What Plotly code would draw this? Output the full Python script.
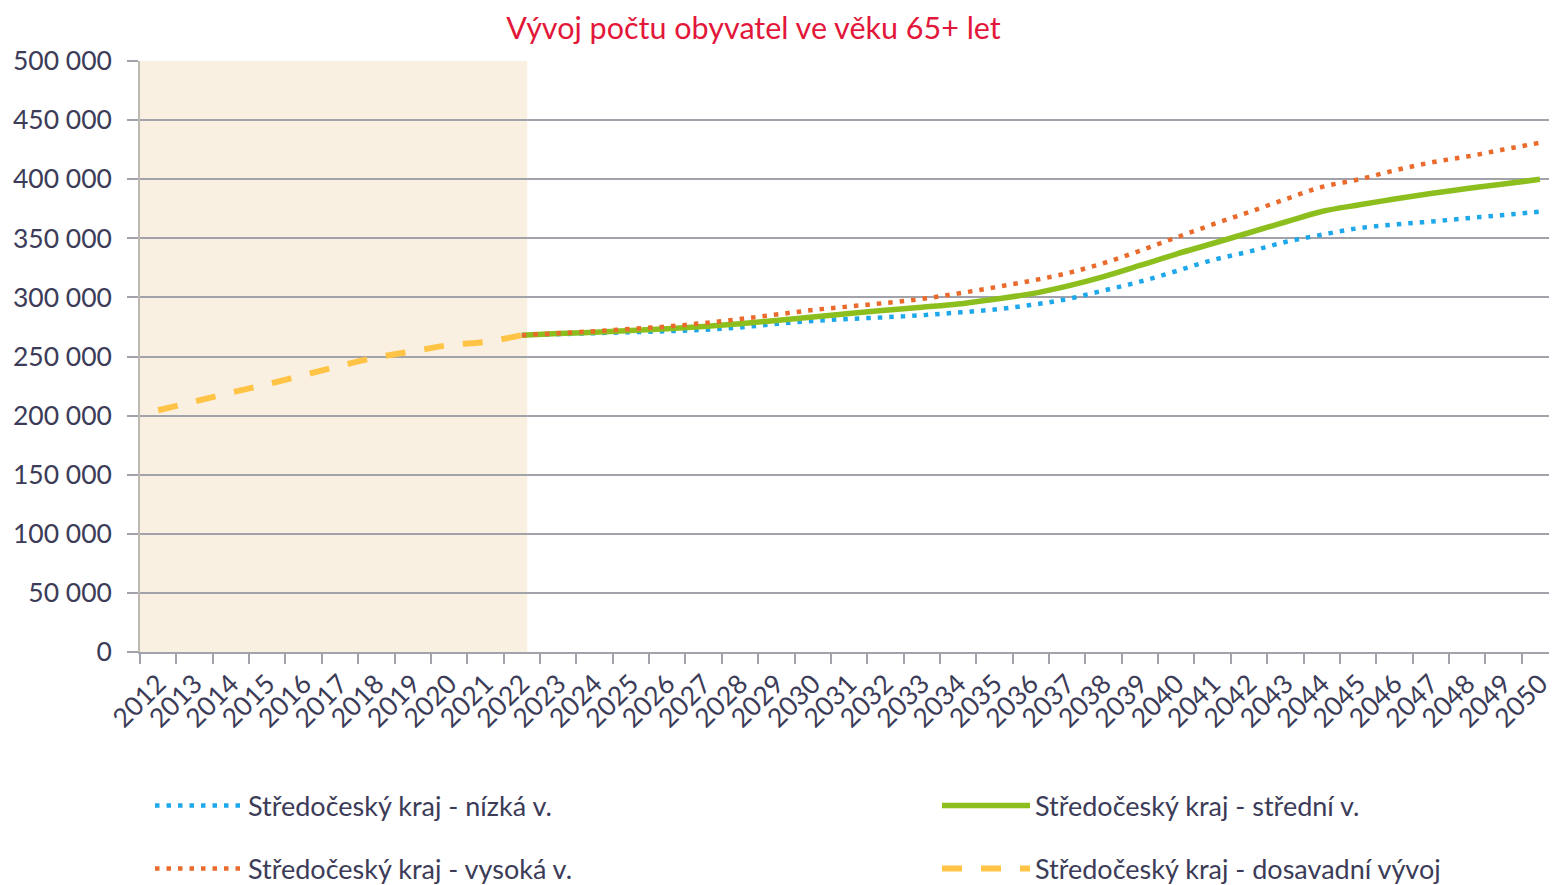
import plotly.graph_objects as go

years = ["2012", "2013", "2014", "2015", "2016", "2017", "2018", "2019", "2020", "2021",
         "2022", "2023", "2024", "2025", "2026", "2027", "2028", "2029", "2030", "2031",
         "2032", "2033", "2034", "2035", "2036", "2037", "2038", "2039", "2040", "2041",
         "2042", "2043", "2044", "2045", "2046", "2047", "2048", "2049", "2050"]

hist_years = years[:11]          # 2012-2022
proj_years = years[10:]          # 2022-2050

hist_values = [204500, 211900, 219500, 226500, 234300, 242000, 249200, 254400, 259600, 262400, 268000]

low_values = [268000, 268900, 269700, 270600, 271400, 272600, 274600, 277600, 280100, 281800,
              283200, 284900, 287200, 289800, 293600, 298600, 305800, 313300, 322300, 331600,
              338700, 346900, 353000, 358500, 361700, 364100, 367000, 369700, 372500]

mid_values = [268000, 269400, 270600, 271900, 273400, 275300, 277700, 280500, 283400, 286400,
              289100, 291700, 294400, 298500, 303000, 309500, 317500, 327000, 336700, 345600,
              354700, 363800, 372700, 378200, 383200, 387900, 392100, 395900, 399900]

high_values = [268000, 269700, 271400, 273300, 275400, 278300, 281700, 285500, 289300, 292300,
               295300, 298700, 303300, 308500, 314000, 320500, 329000, 339500, 350700, 361700,
               372200, 383000, 393400, 399700, 407400, 414100, 419200, 425100, 430800]

y_tickvals = [0, 50000, 100000, 150000, 200000, 250000, 300000, 350000, 400000, 450000, 500000]
y_ticktext = ["0", "50 000", "100 000", "150 000", "200 000", "250 000", "300 000",
              "350 000", "400 000", "450 000", "500 000"]

names = ["Středočeský kraj - nízká v.", "Středočeský kraj - střední v.",
         "Středočeský kraj - vysoká v.", "Středočeský kraj - dosavadní vývoj"]

title_text = "Vývoj počtu obyvatel ve věku 65+ let"

FONT = "Lato"
TXT = "#3c3c58"
GRID = "#a2a2aa"

fig = go.Figure()

fig.add_trace(go.Scatter(
    x=hist_years, y=hist_values, mode="lines", name=names[3],
    line=dict(color="#ffc445", width=6, dash="20px,19px", shape="spline"),
    legend="legend4", hoverinfo="skip"))

fig.add_trace(go.Scatter(
    x=proj_years, y=low_values, mode="lines", name=names[0],
    line=dict(color="#1ea7ea", width=4.5, dash="4.5px,7px", shape="spline"),
    legend="legend", hoverinfo="skip"))

fig.add_trace(go.Scatter(
    x=proj_years, y=mid_values, mode="lines", name=names[1],
    line=dict(color="#8cbf1e", width=5.5, shape="spline"),
    legend="legend2", hoverinfo="skip"))

fig.add_trace(go.Scatter(
    x=proj_years, y=high_values, mode="lines", name=names[2],
    line=dict(color="#ea6a2c", width=4.5, dash="4.5px,7px", shape="spline"),
    legend="legend3", hoverinfo="skip"))

# shaded historical period
fig.add_shape(type="rect", xref="x", yref="y", x0=-0.5, x1=10.15, y0=0, y1=503000,
              fillcolor="#faf0e2", line=dict(width=0), layer="below")

legend_common = dict(
    orientation="h", xref="container", yref="container",
    xanchor="left", yanchor="middle", itemwidth=88,
    font=dict(family=FONT, size=27, color=TXT),
    bgcolor="rgba(0,0,0,0)",
)

col1, col2 = 150 / 1553, 937 / 1553
row1, row2 = 1 - 806 / 885, 1 - 869 / 885

fig.update_layout(
    width=1553, height=885,
    margin=dict(l=140, r=0, t=61, b=233),
    paper_bgcolor="white", plot_bgcolor="white",
    title=dict(text=title_text, x=753.5 / 1553, xref="container", xanchor="center",
               y=1 - 28 / 885, yref="container", yanchor="middle",
               font=dict(family=FONT, size=30.5, color="#e2173a")),
    showlegend=True,
    legend=dict(x=col1, y=row1, **legend_common),
    legend2=dict(x=col2, y=row1, **legend_common),
    legend3=dict(x=col1, y=row2, **legend_common),
    legend4=dict(x=col2, y=row2, **legend_common),
    xaxis=dict(type="category", categoryorder="array", categoryarray=years,
               range=[-0.5, 38.25], tickson="boundaries", ticks="outside",
               ticklen=10, tickwidth=1.5, tickcolor=GRID,
               showline=True, linecolor=GRID, linewidth=1.5,
               showgrid=False, tickangle=-45, ticklabelstandoff=4,
               tickfont=dict(family=FONT, size=26.5, color=TXT)),
    yaxis=dict(range=[0, 500000], tickvals=y_tickvals, ticktext=y_ticktext,
               showgrid=True, gridcolor=GRID, gridwidth=1.5,
               showline=True, linecolor="#bdb8b0", linewidth=1.5,
               ticks="outside", ticklen=11, tickwidth=1.5, tickcolor=GRID,
               zeroline=False, ticklabelstandoff=10,
               tickfont=dict(family=FONT, size=26.5, color=TXT)),
)

fig.write_html("out.html", config={"displayModeBar": False},
               post_script="document.body.style.margin='0px';")
